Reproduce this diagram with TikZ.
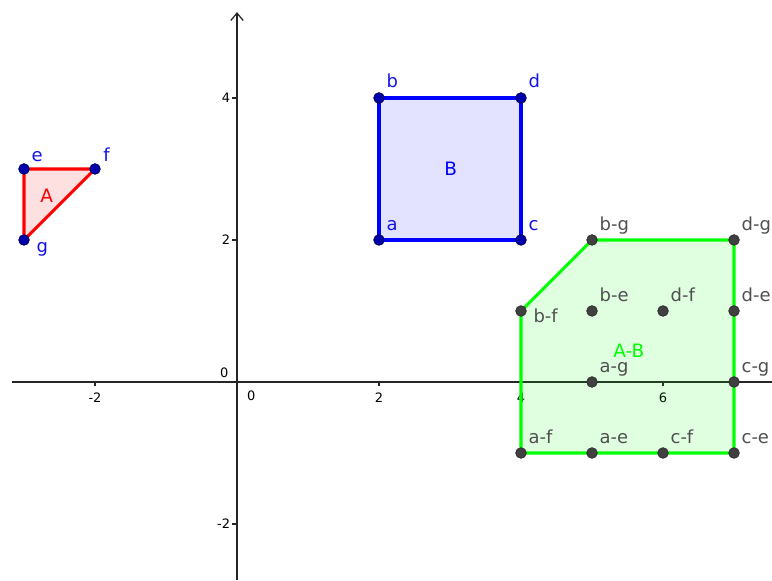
\documentclass[tikz,border=0pt]{standalone}
\usepackage{fontspec}
\setmainfont{DejaVu Sans}
\usetikzlibrary{arrows.meta}
\definecolor{gred}{RGB}{255,0,0}
\definecolor{gblue}{RGB}{0,0,255}
\definecolor{ggreen}{RGB}{0,255,0}
\definecolor{ptblue}{RGB}{0,0,170}
\definecolor{ptblueb}{RGB}{0,0,90}
\definecolor{ptgray}{RGB}{64,64,64}
\definecolor{lblgray}{RGB}{80,80,80}
\definecolor{lbllblue}{RGB}{20,20,230}
\tikzset{
  axisline/.style={line width=0.6pt, black!85},
  tickmark/.style={line width=0.45pt, black!85},
  ticklbl/.style={font=\fontsize{5.2}{6}\selectfont, inner sep=0pt, text=black},
  polyred/.style={draw=gred, line width=1.25pt, fill=gred, fill opacity=0.12, line join=round},
  polyblue/.style={draw=gblue, line width=1.25pt, fill=gblue, fill opacity=0.11, line join=round},
  polygreen/.style={draw=ggreen, line width=1.25pt, fill=ggreen, fill opacity=0.12, line join=round},
  bpt/.style={circle, fill=ptblue, draw=ptblueb, line width=0.3pt, inner sep=0pt, minimum size=0.15cm},
  gpt/.style={circle, fill=ptgray, draw=ptgray!70!black, line width=0.3pt, inner sep=0pt, minimum size=0.15cm},
  blbl/.style={font=\fontsize{7.2}{8}\selectfont, text=lbllblue, inner sep=0pt, anchor=base west},
  glbl/.style={font=\fontsize{7.2}{8}\selectfont, text=lblgray, inner sep=0pt, anchor=base west},
  namelbl/.style={font=\fontsize{7.4}{8}\selectfont, inner sep=0pt}
}
\begin{document}
\begin{tikzpicture}
\useasboundingbox (-3.338,-2.789) rectangle (7.535,5.380);
% axes
\coordinate (xl) at (-3.17,0);
\coordinate (xr) at (7.535,0);
\coordinate (yb) at (0,-2.789);
\coordinate (yt) at (0,5.21);
\draw[axisline] (xl) -- (xr);
\draw[axisline, -{Straight Barb[length=3pt,width=5pt,line width=0.5pt]}] (yb) -- (yt);
% ticks
\foreach \x in {-2,2,4,6} \draw[tickmark] (\x,0) -- (\x,-0.06);
\foreach \y in {-2,2,4} \draw[tickmark] (0,\y) -- (-0.07,\y);
\foreach \x in {-2,2,4,6} \node[ticklbl] (tx\x) at (\x,-0.22) {\x};
\foreach \y in {-2,2,4} \node[ticklbl, anchor=east] (ty\y) at (-0.09,\y) {\y};
\node[ticklbl] (zx) at (0.2,-0.2) {0};
\node[ticklbl] (zy) at (-0.18,0.13) {0};
% vertices
\coordinate (e) at (-3,3);
\coordinate (f) at (-2,3);
\coordinate (g) at (-3,2);
\coordinate (a) at (2,2);
\coordinate (b) at (2,4);
\coordinate (c) at (4,2);
\coordinate (d) at (4,4);
\coordinate (af) at (4,-1);
\coordinate (bf) at (4,1);
\coordinate (bg) at (5,2);
\coordinate (dg) at (7,2);
\coordinate (ce) at (7,-1);
% polygons
\filldraw[polyred] (e) -- (f) -- (g) -- cycle;
\filldraw[polyblue] (a) -- (c) -- (d) -- (b) -- cycle;
\filldraw[polygreen] (af) -- (bf) -- (bg) -- (dg) -- (ce) -- cycle;
\node[namelbl, text=gred] (nA) at (-2.68,2.62) {A};
\node[namelbl, text=gblue] (nB) at (3.01,3.0) {B};
\node[namelbl, text=ggreen] (nAB) at (5.52,0.44) {A-B};
% blue points
\foreach \p in {e,f,g,a,b,c,d} \node[bpt] (p\p) at (\p) {};
\path (e) ++(0.1,0.11) node[blbl] (le) {e};
\path (f) ++(0.11,0.1) node[blbl] (lf) {f};
\path (g) ++(0.17,-0.17) node[blbl] (lg) {g};
\path (a) ++(0.1,0.13) node[blbl] (la) {a};
\path (b) ++(0.1,0.15) node[blbl] (lb) {b};
\path (c) ++(0.1,0.13) node[blbl] (lc) {c};
\path (d) ++(0.1,0.15) node[blbl] (ld) {d};
% difference points
\foreach \n/\x/\y/\t in {bg/5/2/b-g, dg/7/2/d-g, be/5/1/b-e, df/6/1/d-f, de/7/1/d-e, ag/5/0/a-g, cg/7/0/c-g, af/4/-1/a-f, ae/5/-1/a-e, cf/6/-1/c-f, ce/7/-1/c-e}{
  \node[gpt] (q\n) at (\x,\y) {};
  \path (\x,\y) ++(0.1,0.13) node[glbl] (l\n) {\t};
}
\node[gpt] (qbf) at (bf) {};
\path (bf) ++(0.17,-0.16) node[glbl] (lbf) {b-f};
\end{tikzpicture}
\end{document}
